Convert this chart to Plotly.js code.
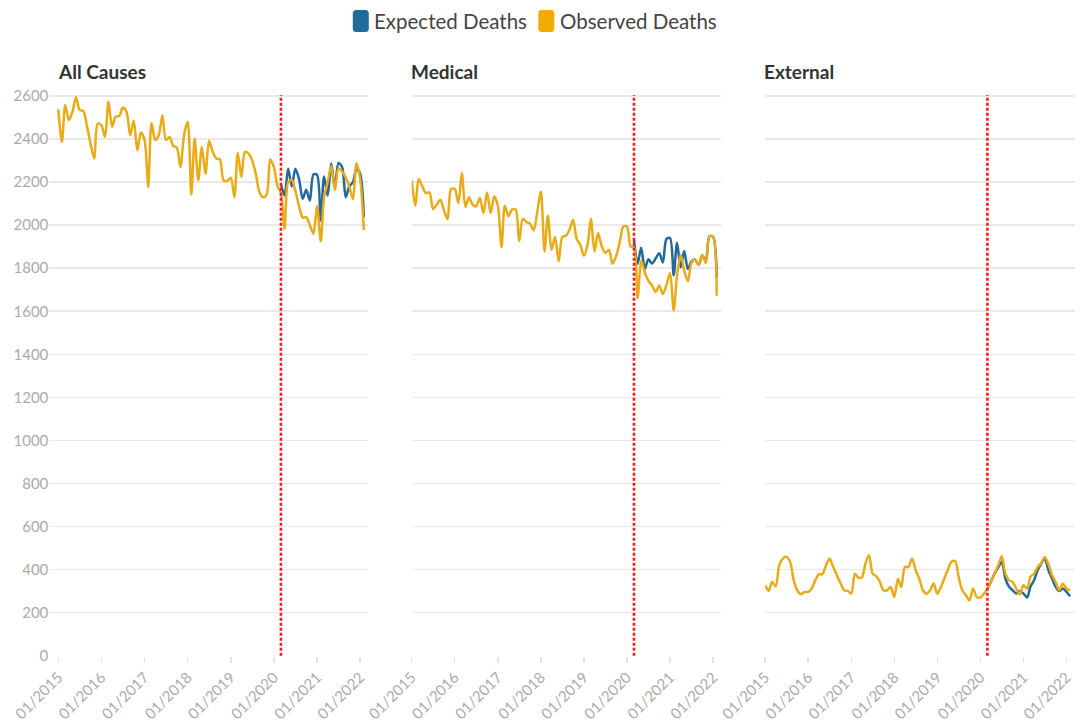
<!DOCTYPE html>
<html>
<head>
<meta charset="utf-8">
<script src="https://cdn.plot.ly/plotly-3.0.1.min.js"></script>
<style>
html,body{margin:0;padding:0;background:#fff;}
#chart{width:1081px;height:727px;}
</style>
</head>
<body>
<div id="chart"></div>
<script>
// Monthly series, 01/2015 .. 02/2022
var startYear = 2015, startMonth = 1, nMonths = 86;
var months = [];
for (var i = 0; i < nMonths; i++) {
  var y = startYear + Math.floor((startMonth - 1 + i) / 12);
  var m = ((startMonth - 1 + i) % 12) + 1;
  months.push(y + '-' + (m < 10 ? '0' + m : m) + '-01');
}
var expectedStartIndex = 62; // 03/2020
var cutoffDate = '2020-03-01';

var panelTitles = ['All Causes', 'Medical', 'External'];
var seriesNames = ['Expected Deaths', 'Observed Deaths'];
var yTickVals = [0, 200, 400, 600, 800, 1000, 1200, 1400, 1600, 1800, 2000, 2200, 2400, 2600];

var allObserved = [2538, 2387, 2558, 2488, 2527, 2594, 2535, 2531, 2460, 2380,
  2309, 2472, 2465, 2410, 2574, 2457, 2504, 2507, 2547, 2527,
  2418, 2485, 2348, 2430, 2395, 2177, 2475, 2395, 2418, 2511,
  2395, 2410, 2367, 2360, 2270, 2418, 2480, 2142, 2402, 2208,
  2363, 2239, 2391, 2340, 2309, 2305, 2208, 2205, 2220, 2130,
  2335, 2224, 2340, 2332, 2301, 2239, 2153, 2130, 2142, 2305,
  2270, 2180, 2150, 1983, 2200, 2210, 2160, 2090, 2035, 2037,
  2000, 1960, 2090, 1925, 2128, 2200, 2275, 2163, 2263, 2250,
  2222, 2180, 2120, 2288, 2215, 1977];
var allExpected = [2190, 2138, 2262, 2180, 2262, 2215, 2122, 2164, 2114, 2235,
  2234, 2021, 2226, 2138, 2286, 2174, 2289, 2270, 2130, 2180,
  2200, 2262, 2239, 2037];

var medObserved = [2208, 2090, 2214, 2180, 2149, 2152, 2075, 2095, 2118, 2070,
  2028, 2168, 2168, 2103, 2242, 2084, 2129, 2095, 2087, 2126,
  2056, 2152, 2056, 2134, 2090, 1898, 2090, 2041, 2072, 2072,
  1925, 2030, 2014, 2007, 1976, 2060, 2157, 1878, 2044, 1886,
  1945, 1832, 1945, 1951, 1979, 2025, 1936, 1909, 1858, 1909,
  2028, 1878, 1963, 1902, 1871, 1886, 1821, 1855, 1920, 1994,
  1994, 1902, 1895, 1661, 1835, 1780, 1742, 1720, 1690, 1720,
  1680, 1720, 1778, 1604, 1765, 1863, 1790, 1739, 1824, 1840,
  1815, 1863, 1824, 1950, 1945, 1672];
var medExpected = [1930, 1820, 1895, 1796, 1842, 1822, 1845, 1870, 1827, 1935,
  1940, 1767, 1918, 1804, 1880, 1796, 1831, 1840, 1815, 1858,
  1835, 1948, 1946, 1759];

var extObserved = [327, 301, 343, 322, 420, 451, 459, 436, 350, 304,
  285, 296, 296, 312, 350, 378, 378, 420, 451, 412,
  374, 338, 304, 301, 288, 381, 363, 363, 428, 467,
  381, 369, 343, 304, 304, 319, 273, 358, 319, 412,
  412, 451, 397, 358, 304, 288, 304, 335, 288, 319,
  358, 400, 436, 440, 366, 304, 281, 257, 312, 273,
  270, 288, 312, 343, 381, 420, 462, 381, 350, 343,
  312, 285, 327, 312, 366, 381, 412, 431, 459, 425,
  374, 343, 304, 335, 312, 304];
var extExpected = [312, 345, 381, 410, 435, 358, 320, 304, 289, 301,
  289, 270, 320, 350, 397, 428, 451, 397, 358, 320,
  301, 312, 296, 276];

var colorExpected = '#22699a';
var colorObserved = '#e9ab17';
var swatchExpected = '#1f6b9a';
var swatchObserved = '#f0ac00';
var fontFamily = 'Lato, "Open Sans", sans-serif';

var panels = [
  {obs: allObserved, exp: allExpected, xa: 'x', ya: 'y'},
  {obs: medObserved, exp: medExpected, xa: 'x2', ya: 'y2'},
  {obs: extObserved, exp: extExpected, xa: 'x3', ya: 'y3'}
];

var W = 1081, H = 727;
function px(v) { return v / W; }
function py(v) { return 1 - v / H; }

var data = [];
var expMonths = months.slice(expectedStartIndex);
panels.forEach(function (p) {
  data.push({
    type: 'scatter', mode: 'lines', x: expMonths, y: p.exp, name: seriesNames[0],
    xaxis: p.xa, yaxis: p.ya, showlegend: false, hoverinfo: 'skip',
    line: {color: colorExpected, width: 2.5, shape: 'spline', smoothing: 0.8}
  });
  data.push({
    type: 'scatter', mode: 'lines', x: months, y: p.obs, name: seriesNames[1],
    xaxis: p.xa, yaxis: p.ya, showlegend: false, hoverinfo: 'skip',
    line: {color: colorObserved, width: 2.5, shape: 'spline', smoothing: 0.8}
  });
});

var yDomain = [py(655.7), py(94.9)];
var gridColor = '#e9e9e9';
var tickFont = {family: fontFamily, size: 15, color: '#aaaaaa'};

function xAxis(domain, range) {
  return {
    domain: domain, range: range, type: 'date',
    tick0: '2015-01-01', dtick: 'M12', tickformat: '%m/%Y', tickangle: -45,
    ticks: 'outside', ticklen: 6, tickwidth: 1.5, tickcolor: '#e3e3e3',
    showgrid: false, zeroline: false, showline: false,
    tickfont: tickFont, fixedrange: true, automargin: false
  };
}
function yAxis(anchor, showLabels) {
  return {
    domain: yDomain, range: [0, 2605], anchor: anchor,
    tickvals: yTickVals, showticklabels: showLabels, ticks: '',
    showgrid: true, gridcolor: gridColor, gridwidth: 1.6,
    zeroline: false, showline: false, tickfont: tickFont,
    fixedrange: true, automargin: false
  };
}

var shapes = [];
['x', 'x2', 'x3'].forEach(function (xa, i) {
  shapes.push({
    type: 'line', xref: xa, yref: (i === 0 ? 'y' : 'y' + (i + 1)) + ' domain',
    x0: cutoffDate, x1: cutoffDate, y0: 0, y1: 1,
    line: {color: '#ff1a1a', width: 2.6, dash: '3px,2px'}, layer: 'above'
  });
});

// legend swatches (rounded rectangles) drawn in paper coordinates
function roundRect(x0, y0, x1, y1, r) {
  function P(x, y) { return px(x).toFixed(5) + ',' + py(y).toFixed(5); }
  return 'M' + P(x0 + r, y0) + ' L' + P(x1 - r, y0) + ' Q' + P(x1, y0) + ' ' + P(x1, y0 + r) +
    ' L' + P(x1, y1 - r) + ' Q' + P(x1, y1) + ' ' + P(x1 - r, y1) +
    ' L' + P(x0 + r, y1) + ' Q' + P(x0, y1) + ' ' + P(x0, y1 - r) +
    ' L' + P(x0, y0 + r) + ' Q' + P(x0, y0) + ' ' + P(x0 + r, y0) + ' Z';
}
var legendItems = [
  {name: seriesNames[0], color: swatchExpected, sx: 352.8, tx: 372.5},
  {name: seriesNames[1], color: swatchObserved, sx: 538.3, tx: 557.5}
];
var annotations = [];
legendItems.forEach(function (it) {
  shapes.push({
    type: 'path', xref: 'paper', yref: 'paper',
    path: roundRect(it.sx, 10, it.sx + 16, 32, 3.5),
    fillcolor: it.color, line: {width: 0}, layer: 'above'
  });
  annotations.push({
    text: it.name, xref: 'paper', yref: 'paper',
    x: px(it.tx), y: py(21), xanchor: 'left', yanchor: 'middle',
    showarrow: false, font: {family: fontFamily, size: 20.5, color: '#444444'}
  });
});

var titleX = [55.5, 408.9, 762.3];
panelTitles.forEach(function (t, i) {
  annotations.push({
    text: '<b>' + t + '</b>', xref: 'paper', yref: 'paper',
    x: px(titleX[i]), y: py(71), xanchor: 'left', yanchor: 'middle',
    showarrow: false, font: {family: fontFamily, size: 19, color: '#333333'}
  });
});

var layout = {
  width: W, height: H,
  margin: {l: 0, r: 0, t: 0, b: 0},
  paper_bgcolor: '#ffffff', plot_bgcolor: 'rgba(0,0,0,0)',
  font: {family: fontFamily},
  showlegend: false,
  xaxis: xAxis([px(49.3), px(368.3)], ['2014-10-17', '2022-03-11']),
  xaxis2: xAxis([px(411.7), px(721.2)], ['2015-01-01', '2022-03-11']),
  xaxis3: xAxis([px(765.1), px(1074.6)], ['2015-01-01', '2022-03-11']),
  yaxis: yAxis('x', true),
  yaxis2: yAxis('x2', false),
  yaxis3: yAxis('x3', false),
  shapes: shapes,
  annotations: annotations,
  hovermode: false
};
layout.xaxis.anchor = 'y';
layout.xaxis2.anchor = 'y2';
layout.xaxis3.anchor = 'y3';

Plotly.newPlot('chart', data, layout, {staticPlot: true, displayModeBar: false});
</script>
</body>
</html>
